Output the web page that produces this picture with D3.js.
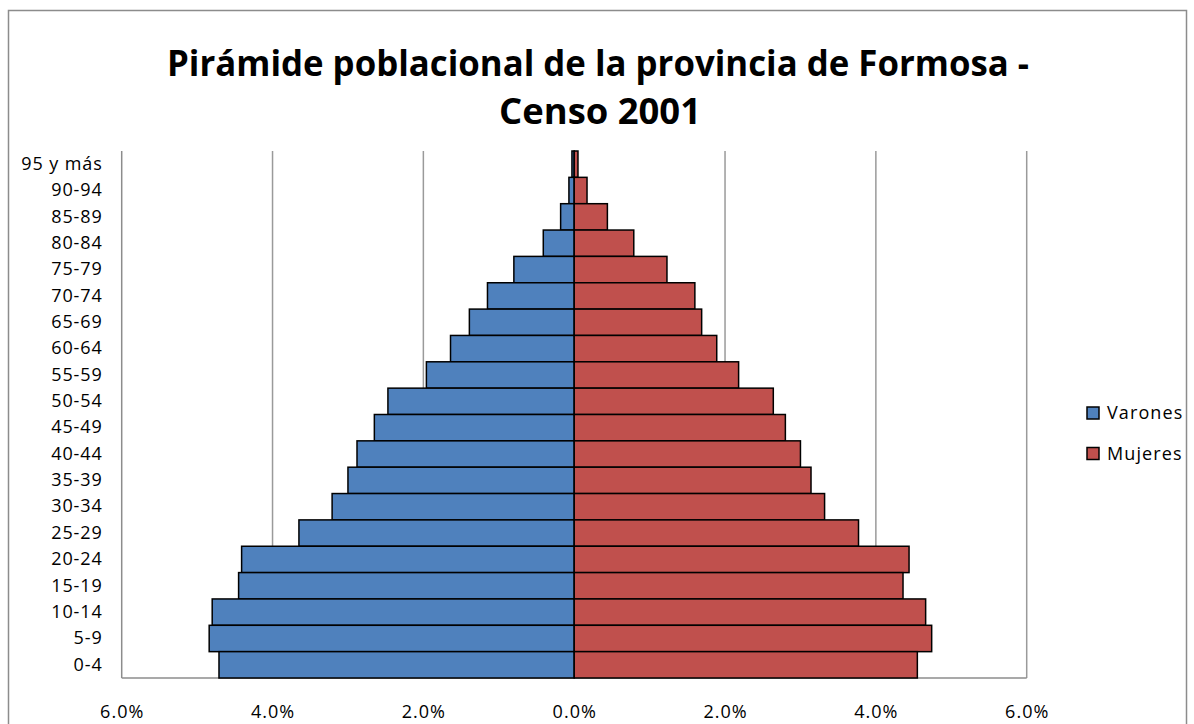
<!DOCTYPE html>
<html>
<head>
<meta charset="utf-8">
<script src="https://cdn.jsdelivr.net/npm/d3@7"></script>
<style>
  html, body { margin: 0; padding: 0; background: #fff; }
  svg { display: block; }
  text { font-family: "Open Sans", "Liberation Sans", sans-serif; }
</style>
</head>
<body>
<svg id="chart" width="1194" height="724"></svg>
<script>
const categories = ["95 y más","90-94","85-89","80-84","75-79","70-74","65-69","60-64","55-59","50-54",
  "45-49","40-44","35-39","30-34","25-29","20-24","15-19","10-14","5-9","0-4"];
const varones = [0.03,0.07,0.18,0.41,0.80,1.15,1.39,1.64,1.96,2.47,
  2.65,2.88,3.00,3.21,3.65,4.41,4.45,4.80,4.84,4.71];
const mujeres = [0.05,0.17,0.44,0.79,1.23,1.60,1.69,1.89,2.18,2.64,
  2.80,3.00,3.14,3.32,3.77,4.44,4.36,4.66,4.74,4.55];
const tickValues = [-6,-4,-2,0,2,4,6];
const seriesNames = ["Varones","Mujeres"];
const colors = ["#4F81BD","#C0504D"];
const titleLines = ["Pirámide poblacional de la provincia de Formosa -","Censo 2001"];

const svg = d3.select("#chart");

// outer chart border
svg.append("rect").attr("x",8.5).attr("y",10.5).attr("width",1178).attr("height",730)
  .attr("fill","#fff").attr("stroke","#8c8c8c").attr("stroke-width",1.5);

const plot = {left:121.7, right:1026.7, top:151, bottom:678};

const x = d3.scaleLinear().domain([-6,6]).range([plot.left, plot.right]);
const y = d3.scaleBand().domain(categories).range([plot.top, plot.bottom]).padding(0);

// gridlines
svg.append("g").selectAll("line").data(tickValues.filter(v => v !== 0 && v !== -6)).join("line")
  .attr("x1", d => x(d)).attr("x2", d => x(d))
  .attr("y1", plot.top).attr("y2", plot.bottom)
  .attr("stroke","#9a9a9a").attr("stroke-width",1.5);

// axis frame lines (left and bottom)
svg.append("line").attr("x1",plot.left).attr("x2",plot.left).attr("y1",plot.top).attr("y2",plot.bottom)
  .attr("stroke","#8c8c8c").attr("stroke-width",1.5);
svg.append("line").attr("x1",plot.left).attr("x2",plot.right).attr("y1",plot.bottom).attr("y2",plot.bottom)
  .attr("stroke","#8c8c8c").attr("stroke-width",1.5);

// bars
const gBars = svg.append("g");
gBars.selectAll("rect.v").data(categories).join("rect").attr("class","v")
  .attr("x", (d,i) => x(-varones[i]))
  .attr("width", (d,i) => x(0) - x(-varones[i]))
  .attr("y", d => y(d)).attr("height", y.bandwidth())
  .attr("fill", colors[0]).attr("stroke","#000").attr("stroke-width",1.5);
gBars.selectAll("rect.m").data(categories).join("rect").attr("class","m")
  .attr("x", x(0))
  .attr("width", (d,i) => x(mujeres[i]) - x(0))
  .attr("y", d => y(d)).attr("height", y.bandwidth())
  .attr("fill", colors[1]).attr("stroke","#000").attr("stroke-width",1.5);

// y axis labels
const yAxis = d3.axisLeft(y).tickSize(0).tickPadding(19);
const gy = svg.append("g").attr("transform",`translate(${plot.left},0)`).call(yAxis);
gy.select(".domain").remove();
gy.selectAll("text").attr("font-size","18px").attr("fill","#000").attr("letter-spacing","0.9px")
  .style("font-family","'Open Sans', sans-serif");

// x axis labels
const xAxis = d3.axisBottom(x).tickValues(tickValues).tickSize(0).tickPadding(0)
  .tickFormat(d => Math.abs(d).toFixed(1) + "%");
const gx = svg.append("g").attr("transform",`translate(0,${plot.bottom})`).call(xAxis);
gx.select(".domain").remove();
gx.selectAll("text").attr("y", 40).attr("dy", 0).attr("font-size","18px").attr("fill","#000")
  .attr("letter-spacing","1px")
  .style("font-family","'Open Sans', sans-serif");

// title
const tg = svg.append("g");
const t1 = tg.append("text").attr("x", 598).attr("y", 76).attr("text-anchor","middle")
  .attr("font-size","36px").attr("font-weight","bold").attr("fill","#000")
  .style("font-family","'Open Sans', sans-serif")
  .text(titleLines[0]);
const t2 = tg.append("text").attr("x", 600).attr("y", 124).attr("text-anchor","middle")
  .attr("font-size","36px").attr("font-weight","bold").attr("fill","#000")
  .style("font-family","'Open Sans', sans-serif")
  .text(titleLines[1]);
t1.attr("textLength", 862).attr("lengthAdjust","spacingAndGlyphs");
t2.attr("textLength", 202).attr("lengthAdjust","spacingAndGlyphs");

// legend
const lg = svg.append("g");
const legY = [413, 453.5];
seriesNames.forEach((name, i) => {
  lg.append("rect").attr("x",1087).attr("y",legY[i]-6).attr("width",12).attr("height",12)
    .attr("fill",colors[i]).attr("stroke","#000").attr("stroke-width",1.5);
  lg.append("text").attr("x",1107).attr("y",legY[i]).attr("dy","0.35em")
    .attr("font-size","18px").attr("fill","#000").attr("letter-spacing","1.1px")
    .text(name);
});
</script>
</body>
</html>
